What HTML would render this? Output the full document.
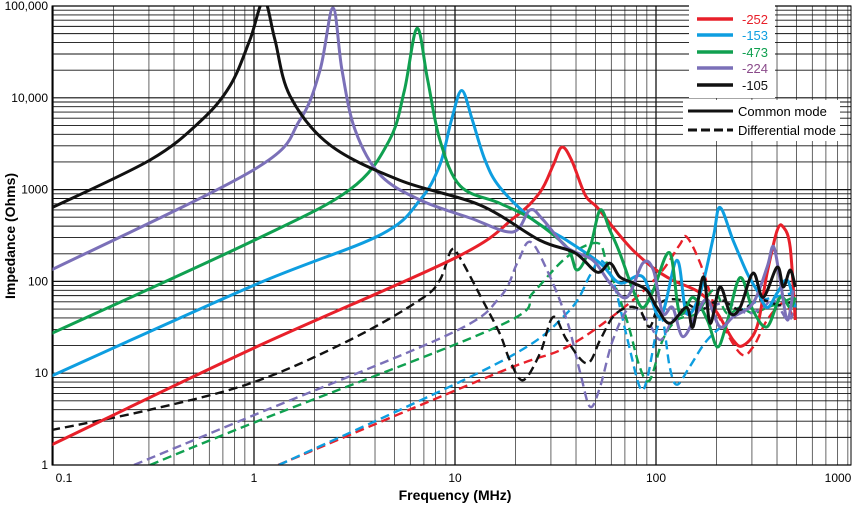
<!DOCTYPE html>
<html><head><meta charset="utf-8"><style>
body{margin:0;background:#fff;}
svg{display:block;font-family:"Liberation Sans",Arial,sans-serif;}
</style></head><body>
<svg id="chart" width="855" height="509" viewBox="0 0 855 509" xmlns="http://www.w3.org/2000/svg">
<g id="grid"></g>
<g id="series"></g>
<rect x="52" y="6" width="799" height="459" fill="none" stroke="#000" stroke-width="1"/>
<g id="axes"></g>
<text x="455" y="500" text-anchor="middle" font-size="14" font-weight="bold">Frequency (MHz)</text>
<text transform="translate(15,236) rotate(-90)" text-anchor="middle" font-size="14" font-weight="bold">Impedance (Ohms)</text>
<g id="legend">
<rect x="689" y="5" width="86" height="93" fill="#fff"/>
<rect x="683" y="100" width="157" height="41" fill="#fff"/>
</g>
</svg>
<script>
const NS="http://www.w3.org/2000/svg";
const X0=52,X1=851,Y0=6,Y1=465;
const xOne=254, xDec=201, yDec=91.8;
function sx(f){return xOne+Math.log10(f)*xDec;}
function sy(z){return Y1-Math.log10(z)*yDec;}

const yTickValues=[1,10,100,1000,10000,100000];
const yTickLabels=["1","10","100","1000","10,000","100,000"];
const xTickValues=[0.1,1,10,100,1000];
const xTickLabels=["0.1","1","10","100","1000"];

const seriesNames=["-252","-153","-473","-224","-105"];
const seriesColors=["#e8202a","#0e9ee0","#10a050","#7b70b8","#111111"];
const labelColors=["#e8202a","#0e9ee0","#10a050","#8a4a8a","#111111"];

// Common-mode (solid) data
const red_cm_f=[0.098,1,10,19.6,26.5,30.8,34,38,44.5,51,62.9,76.6,96.9,121,166,202,242,271,318,357,401,430,465,493];
const red_cm_z=[1.65,18.8,180,490,940,1850,2900,2100,870,640,360,220,140,103,75,45,23,20,32,123,360,390,235,38];
const blue_cm_f=[0.098,1,4.24,6.7,8.4,9.6,10.8,12.2,14.1,16.7,24.4,36,52.7,66,86,105,127,142,166,193,208,242,284,318,357,401,450,493];
const blue_cm_z=[9.3,91,320,770,1850,5700,12000,5700,2100,1060,470,280,158,96,112,41,170,45,75,305,640,280,123,80,52,75,103,52];
const green_cm_f=[0.098,1,3,4.7,5.6,6.47,7.3,8.4,10.6,16.7,24.4,36,40.5,47,52.7,59,66,77,86,97,117,131,153,180,202,225,262,304,357,415,465,493];
const green_cm_z=[27,280,1000,3400,12000,57000,16000,3500,1100,710,470,235,133,235,600,360,205,80,52,80,205,45,67,38,19.3,35,110,48,32,67,52,67];
const purple_cm_f=[0.098,1,1.69,2.13,2.47,2.74,3.18,4.24,6.7,11.9,19.4,23.6,27.4,36,48.5,59,71.6,86,97,108,121,136,160,180,208,242,304,357,384,415,450,482];
const purple_cm_z=[133,1650,5700,20000,95000,20000,4500,1450,770,490,345,600,470,235,170,96,67,158,133,45,52,25,45,63,32,41,58,143,240,103,38,80];
const black_cm_f=[0.098,0.304,0.539,0.76,0.955,1.12,1.27,1.51,2.39,5.33,13.3,26.5,39.5,51,59,66,77,90,101,117,142,153,172,186,208,234,262,304,341,401,430,465,493];
const black_cm_z=[630,2100,5500,13500,43000,115000,43000,10500,3050,1260,680,280,205,126,158,112,96,80,52,35,52,32,112,35,87,45,52,123,67,143,87,133,87];

// Differential-mode (dashed) data
const red_dm_f=[1.32,16.7,36,71.6,105,131,142,166,202,262,304,357,430,482];
const red_dm_z=[1,10.3,19.3,55,123,250,305,158,45,16.5,19.3,38,58,41];
const blue_dm_f=[1.33,16.7,36,47,52.7,61,71.6,83,90,101,108,117,127,147,180,242,304,384,482];
const blue_dm_z=[1,13.2,45,117,170,103,25,7.1,8.4,30,38,11.7,7.5,11.7,23,41,58,67,75];
const green_dm_f=[0.304,1,16.7,24.4,36,51,57,71.6,83,93,108,127,160,193,225,262,304,357,415,482];
const green_dm_z=[1,2.9,33,75,184,262,158,38,11.7,8.4,23,38,45,80,45,52,45,52,58,67];
const purple_dm_f=[0.253,1,9.5,16.7,20.4,23.6,28.7,36,42,47,52.7,61,74,90,105,121,142,180,225,284,341,384,450,482];
const purple_dm_z=[1,3.5,27,67,158,270,133,38,10,4.3,7.1,23,52,38,23,38,45,52,58,45,52,63,38,45];
const black_dm_f=[0.098,0.304,1,3,6.7,8.4,9.6,10.6,13.3,16.7,18.7,21.8,26.5,30.8,36,45.3,52.7,61,71.6,83,93,105,131,166,208,262,330,415,493];
const black_dm_z=[2.4,4,8,23,63,103,220,180,71,27,14,8.4,16.5,41,23,12.8,23,41,52,49,32,58,63,49,63,49,63,55,63];

const cmF=[red_cm_f,blue_cm_f,green_cm_f,purple_cm_f,black_cm_f];
const cmZ=[red_cm_z,blue_cm_z,green_cm_z,purple_cm_z,black_cm_z];
const dmF=[red_dm_f,blue_dm_f,green_dm_f,purple_dm_f,black_dm_f];
const dmZ=[red_dm_z,blue_dm_z,green_dm_z,purple_dm_z,black_dm_z];

const grid=document.getElementById('grid');
// vertical grid
for(let e=-2;e<=3;e++){for(let m=1;m<=9;m++){const f=m*Math.pow(10,e);const x=sx(f);if(x<X0||x>X1)continue;
const l=document.createElementNS(NS,'line');


l.setAttribute('x1',x);l.setAttribute('x2',x);l.setAttribute('y1',Y0);l.setAttribute('y2',Y1);
l.setAttribute('stroke',m===1?'#000':'#666');l.setAttribute('stroke-width',m===1?1.2:1);grid.appendChild(l);}}
// horizontal grid
for(let e=0;e<=5;e++){for(let m=1;m<=9;m++){const z=m*Math.pow(10,e);const y=sy(z);if(y<Y0-0.5||y>Y1)continue;
const l=document.createElementNS(NS,'line');


l.setAttribute('x1',X0);l.setAttribute('x2',X1);l.setAttribute('y1',y);l.setAttribute('y2',y);
l.setAttribute('stroke','#111');l.setAttribute('stroke-width',m===1?1.2:0.9);grid.appendChild(l);}}

const axes=document.getElementById('axes');
yTickValues.forEach((v,i)=>{const t=document.createElementNS(NS,'text');


t.setAttribute('x',48);t.setAttribute('y',sy(v)+4);t.setAttribute('text-anchor','end');t.setAttribute('font-size','12');t.textContent=yTickLabels[i];axes.appendChild(t);});
xTickValues.forEach((v,i)=>{const t=document.createElementNS(NS,'text');


let x=sx(v);if(i===0)x=64;if(i===xTickValues.length-1)x=838;
t.setAttribute('x',x);t.setAttribute('y',482);t.setAttribute('text-anchor','middle');t.setAttribute('font-size','12');t.textContent=xTickLabels[i];axes.appendChild(t);});

function pathFor(F,Z){const p=F.map((f,i)=>[sx(f),sy(Z[i])]);
let d='M'+p[0][0].toFixed(1)+','+p[0][1].toFixed(1);
for(let i=0;i<p.length-1;i++){const p0=p[Math.max(0,i-1)],p1=p[i],p2=p[i+1],p3=p[Math.min(p.length-1,i+2)];
const c1=[p1[0]+(p2[0]-p0[0])/6,p1[1]+(p2[1]-p0[1])/6],c2=[p2[0]-(p3[0]-p1[0])/6,p2[1]-(p3[1]-p1[1])/6];
d+=' C'+c1[0].toFixed(1)+','+c1[1].toFixed(1)+' '+c2[0].toFixed(1)+','+c2[1].toFixed(1)+' '+p2[0].toFixed(1)+','+p2[1].toFixed(1);}
return d;}

const sg=document.getElementById('series');
const defs=document.createElementNS(NS,'defs');
defs.innerHTML='<clipPath id="clip"><rect x="52" y="6" width="799" height="459"/></clipPath>';
sg.appendChild(defs);
sg.setAttribute('clip-path','url(#clip)');
for(let i=0;i<5;i++){
const p=document.createElementNS(NS,'path');


p.setAttribute('d',pathFor(dmF[i],dmZ[i]));p.setAttribute('fill','none');p.setAttribute('stroke',seriesColors[i]);
p.setAttribute('stroke-width',2.4);p.setAttribute('stroke-dasharray','9,5');sg.appendChild(p);}
for(let i=0;i<5;i++){
const p=document.createElementNS(NS,'path');


p.setAttribute('d',pathFor(cmF[i],cmZ[i]));p.setAttribute('fill','none');p.setAttribute('stroke',seriesColors[i]);
p.setAttribute('stroke-width',3);p.setAttribute('stroke-linejoin','round');sg.appendChild(p);}

const lg=document.getElementById('legend');
const rowsY=[19,35,52,68,85];
for(let i=0;i<5;i++){
const l=document.createElementNS(NS,'line');


l.setAttribute('x1',697);l.setAttribute('x2',733);l.setAttribute('y1',rowsY[i]);l.setAttribute('y2',rowsY[i]);
l.setAttribute('stroke',seriesColors[i]);l.setAttribute('stroke-width',3.5);lg.appendChild(l);
const t=document.createElementNS(NS,'text');


t.setAttribute('x',742);t.setAttribute('y',rowsY[i]+5);t.setAttribute('font-size','13');t.setAttribute('fill',labelColors[i]);
t.textContent=seriesNames[i];lg.appendChild(t);}
const modes=[["Common mode",111,null],["Differential mode",130,"9,4"]];
modes.forEach(m=>{
const l=document.createElementNS(NS,'line');


l.setAttribute('x1',688);l.setAttribute('x2',733);l.setAttribute('y1',m[1]);l.setAttribute('y2',m[1]);
l.setAttribute('stroke','#111');l.setAttribute('stroke-width',3);if(m[2])l.setAttribute('stroke-dasharray',m[2]);lg.appendChild(l);
const t=document.createElementNS(NS,'text');


t.setAttribute('x',738);t.setAttribute('y',m[1]+5);t.setAttribute('font-size','13');t.textContent=m[0];lg.appendChild(t);});
</script>
</body></html>
